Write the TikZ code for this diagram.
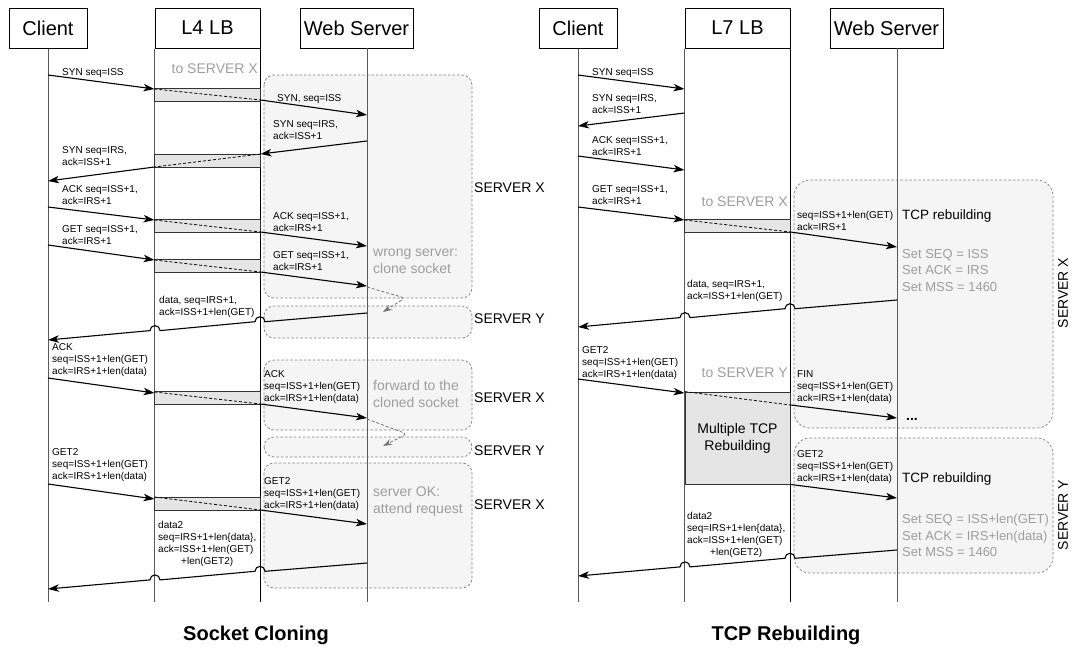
\documentclass[tikz,border=0pt]{standalone}
\usepackage{fontspec}
\setmainfont{Liberation Sans}
\usetikzlibrary{arrows.meta}
\tikzstyle{arrow} = [line width=1.1pt,-{Stealth[length=11pt,width=7.5pt,inset=3pt]}]
\tikzstyle{head} = [rectangle, draw=black, line width=1pt, fill=white, minimum height=40pt, font=\fontsize{20}{24}\selectfont]
\tikzstyle{life} = [draw=black!65, line width=0.8pt]
\tikzstyle{bar} = [rectangle, draw=black!80, line width=0.9pt, fill=black!10]
\tikzstyle{fwd} = [line width=0.8pt, dash pattern=on 3pt off 2pt]
\tikzstyle{region} = [draw=black!50, fill=black!4, line width=0.7pt, dash pattern=on 2.5pt off 2pt, rounded corners=10pt]
\tikzstyle{hop} = [draw=black!55, line width=0.8pt, dash pattern=on 3pt off 2pt, rounded corners=4pt, -{Stealth[length=9pt,width=6pt,inset=3pt]}]
\tikzstyle{msgLbl} = [font=\fontsize{10}{12}\selectfont, align=left, anchor=north west, inner sep=0pt]
\tikzstyle{grayLbl} = [font=\fontsize{14}{17}\selectfont, text=black!38, align=left, anchor=north west, inner sep=0pt]
\tikzstyle{setLbl} = [font=\fontsize{13}{16.5}\selectfont, text=black!38, align=left, anchor=north west, inner sep=0pt]
\tikzstyle{srvLbl} = [font=\fontsize{14}{17}\selectfont, anchor=west, inner sep=0pt]
\tikzstyle{title} = [font=\fontsize{20}{24}\selectfont\bfseries]

\begin{document}
\begin{tikzpicture}[x=1pt, y=-1pt]
		\useasboundingbox (0,0) rectangle (1072,649);
		% ---------- Socket Cloning ----------
		\draw [region] (264,75) rectangle (472,298);
		\draw [region] (264,306) rectangle (472,338);
		\draw [region] (264,360) rectangle (472,430);
		\draw [region] (264,437) rectangle (472,457);
		\draw [region] (264,463) rectangle (472,588);
		\node [srvLbl] at (474,188) {SERVER X};
		\node [srvLbl] at (474,319) {SERVER Y};
		\node [srvLbl] at (474,398) {SERVER X};
		\node [srvLbl] at (474,451) {SERVER Y};
		\node [srvLbl] at (474,505) {SERVER X};

		\node (cli) [head, minimum width=78pt] at (48,28) {Client};
		\node (lb) [head, minimum width=105pt] at (207.5,28) {L4 LB};
		\node (ws) [head, minimum width=113pt] at (356.5,28) {Web Server};
		\coordinate (wsL) at (367,48);
		\coordinate (bot) at (0,602);
		\draw [life] (cli.south) -- (cli.south |- bot);
		\draw [life] (lb.south west) -- (lb.south west |- bot);
		\draw [life, draw=black] (lb.south east) -- (lb.south east |- bot);
		\draw [life] (wsL) -- (wsL |- bot);

		\node [grayLbl, anchor=east] at (258,69) {to SERVER X};
		\draw [bar] (lb.west |- 0,88) rectangle (lb.east |- 0,101);
		\draw [bar] (lb.west |- 0,154) rectangle (lb.east |- 0,167);
		\draw [bar] (lb.west |- 0,219) rectangle (lb.east |- 0,232);
		\draw [bar] (lb.west |- 0,259) rectangle (lb.east |- 0,272);
		\draw [bar] (lb.west |- 0,391) rectangle (lb.east |- 0,404);
		\draw [bar] (lb.west |- 0,497) rectangle (lb.east |- 0,510);
		\draw [fwd] (lb.west |- 0,89) -- (lb.east |- 0,100);
		\draw [fwd] (lb.east |- 0,154) -- (lb.west |- 0,167);
		\draw [fwd] (lb.west |- 0,220) -- (lb.east |- 0,232);
		\draw [fwd] (lb.west |- 0,260) -- (lb.east |- 0,272);
		\draw [fwd] (lb.west |- 0,392) -- (lb.east |- 0,404);
		\draw [fwd] (lb.west |- 0,497) -- (lb.east |- 0,510);

		\node [msgLbl] at (62,68) {SYN seq=ISS};
		\draw [arrow] (cli |- 0,75) -- (lb.west |- 0,89);
		\node [msgLbl] at (277,94) {SYN, seq=ISS};
		\draw [arrow] (lb.east |- 0,100) -- (wsL |- 0,115);
		\node [msgLbl] at (273,120) {SYN seq=IRS,\\ack=ISS+1};
		\draw [arrow] (wsL |- 0,141) -- (lb.east |- 0,154);
		\node [msgLbl] at (62,146) {SYN seq=IRS,\\ack=ISS+1};
		\draw [arrow] (lb.west |- 0,167) -- (cli |- 0,181);
		\node [msgLbl] at (62,185) {ACK seq=ISS+1,\\ack=IRS+1};
		\draw [arrow] (cli |- 0,207) -- (lb.west |- 0,220);
		\node [msgLbl] at (273,212) {ACK seq=ISS+1,\\ack=IRS+1};
		\draw [arrow] (lb.east |- 0,232) -- (wsL |- 0,246);
		\node [msgLbl] at (62,225) {GET seq=ISS+1,\\ack=IRS+1};
		\draw [arrow] (cli |- 0,245) -- (lb.west |- 0,260);
		\node [msgLbl] at (273,251) {GET seq=ISS+1,\\ack=IRS+1};
		\draw [arrow] (lb.east |- 0,272) -- (wsL |- 0,286);
		\node [grayLbl] at (373,249) {wrong server:\\clone socket};
		\coordinate (hopA) at (383,312);
		\draw [hop] (wsL |- 0,287) -- (405,298) -- (hopA);

		\node [msgLbl] at (159,296) {data, seq=IRS+1,\\ack=ISS+1+len(GET)};
		\draw [arrow] (wsL |- 0,313) -- (265,321.7) arc[start angle=0, end angle=-180, radius=5]
			-- (160,330.6) arc[start angle=0, end angle=-180, radius=5] -- (cli |- 0,340);
		\node [msgLbl] at (52,343) {ACK\\seq=ISS+1+len(GET)\\ack=IRS+1+len(data)};
		\draw [arrow] (cli |- 0,378) -- (lb.west |- 0,393);
		\node [msgLbl] at (264,370) {ACK\\seq=ISS+1+len(GET)\\ack=IRS+1+len(data)};
		\draw [arrow] (lb.east |- 0,404) -- (wsL |- 0,418);
		\node [grayLbl] at (373,380) {forward to the\\cloned socket};
		\coordinate (hopB) at (383,446);
		\draw [hop] (wsL |- 0,419) -- (407,434) -- (hopB);

		\node [msgLbl] at (52,448) {GET2\\seq=ISS+1+len(GET)\\ack=IRS+1+len(data)};
		\draw [arrow] (cli |- 0,484) -- (lb.west |- 0,499);
		\node [msgLbl] at (264,477) {GET2\\seq=ISS+1+len(GET)\\ack=IRS+1+len(data)};
		\draw [arrow] (lb.east |- 0,510) -- (wsL |- 0,524);
		\node [grayLbl] at (373,487) {server OK:\\attend request};
		\node [msgLbl] at (158,521) {data2\\seq=IRS+1+len\{data\},\\ack=ISS+1+len(GET)\\\hspace*{23pt}+len(GET2)};
		\draw [arrow] (wsL |- 0,563) -- (265,571.3) arc[start angle=0, end angle=-180, radius=5]
			-- (160,579.9) arc[start angle=0, end angle=-180, radius=5] -- (cli |- 0,589);
		\node [title] at (256,635) {Socket Cloning};

		% ---------- TCP Rebuilding ----------
		\draw [region, rounded corners=16pt] (794,180) rectangle (1053,428);
		\draw [region, rounded corners=16pt] (794,438) rectangle (1053,573);
		\node [srvLbl, anchor=center, rotate=90] at (1063,293) {SERVER X};
		\node [srvLbl, anchor=center, rotate=90] at (1063,515) {SERVER Y};

		\node (cli2) [head, minimum width=78pt] at (578,28) {Client};
		\node (lb2) [head, minimum width=105pt] at (737.5,28) {L7 LB};
		\node (ws2) [head, minimum width=113pt] at (886.5,28) {Web Server};
		\coordinate (wsL2) at (897,48);
		\draw [life] (cli2.south) -- (cli2.south |- bot);
		\draw [life] (lb2.south west) -- (lb2.south west |- bot);
		\draw [life, draw=black] (lb2.south east) -- (lb2.south east |- bot);
		\draw [life] (wsL2) -- (wsL2 |- bot);

		\node [msgLbl] at (592,68) {SYN seq=ISS};
		\draw [arrow] (cli2 |- 0,75) -- (lb2.west |- 0,89);
		\node [msgLbl] at (592,94) {SYN seq=IRS,\\ack=ISS+1};
		\draw [arrow] (lb2.west |- 0,113) -- (cli2 |- 0,126);
		\node [msgLbl] at (592,136) {ACK seq=ISS+1,\\ack=IRS+1};
		\draw [arrow] (cli2 |- 0,156) -- (lb2.west |- 0,170);
		\node [msgLbl] at (592,185) {GET seq=ISS+1,\\ack=IRS+1};
		\draw [arrow] (cli2 |- 0,207) -- (lb2.west |- 0,220);
		\node [grayLbl, anchor=east] at (788,202) {to SERVER X};
		\draw [bar] (lb2.west |- 0,219) rectangle (lb2.east |- 0,232);
		\draw [fwd] (lb2.west |- 0,220) -- (lb2.east |- 0,232);
		\node [msgLbl] at (797,211) {seq=ISS+1+len(GET)\\ack=IRS+1};
		\draw [arrow] (lb2.east |- 0,232) -- (wsL2 |- 0,247);
		\node [srvLbl, font=\fontsize{13.5}{16}\selectfont] at (902,216) {TCP rebuilding};
		\node [setLbl] at (902,249) {Set SEQ = ISS\\Set ACK = IRS\\Set MSS = 1460};

		\node [msgLbl] at (687,280) {data, seq=IRS+1,\\ack=ISS+1+len(GET)};
		\draw [arrow] (wsL2 |- 0,300) -- (795,308.7) arc[start angle=0, end angle=-180, radius=5]
			-- (690,317.6) arc[start angle=0, end angle=-180, radius=5] -- (cli2 |- 0,327);
		\node [msgLbl] at (582,346) {GET2\\seq=ISS+1+len(GET)\\ack=IRS+1+len(data)};
		\draw [arrow] (cli2 |- 0,379) -- (lb2.west |- 0,393);
		\node [grayLbl, anchor=east] at (788,373) {to SERVER Y};
		\node (multi) [bar, minimum width=105pt, minimum height=92pt, align=center,
			font=\fontsize{14}{17}\selectfont] at (737.5,438) {Multiple TCP\\Rebuilding};
		\draw [fwd] (multi.north west) -- (lb2.east |- 0,405);
		\node [msgLbl] at (797,370) {FIN\\seq=ISS+1+len(GET)\\ack=IRS+1+len(data)};
		\draw [arrow] (lb2.east |- 0,405) -- (wsL2 |- 0,418);
		\node [srvLbl, font=\fontsize{14}{17}\selectfont\bfseries] at (906,419) {...};

		\node [msgLbl] at (797,450) {GET2\\seq=ISS+1+len(GET)\\ack=IRS+1+len(data)};
		\draw [arrow] (multi.south east) -- (wsL2 |- 0,498);
		\node [srvLbl, font=\fontsize{13.5}{16}\selectfont] at (902,479) {TCP rebuilding};
		\node [setLbl] at (902,514) {Set SEQ = ISS+len(GET)\\Set ACK = IRS+len(data)\\Set MSS = 1460};
		\node [msgLbl] at (687,512) {data2\\seq=IRS+1+len\{data\},\\ack=ISS+1+len(GET)\\\hspace*{23pt}+len(GET2)};
		\draw [arrow] (wsL2 |- 0,550) -- (795,558.3) arc[start angle=0, end angle=-180, radius=5]
			-- (690,566.9) arc[start angle=0, end angle=-180, radius=5] -- (cli2 |- 0,576);
		\node [title] at (786,635) {TCP Rebuilding};
	\end{tikzpicture}
\end{document}
